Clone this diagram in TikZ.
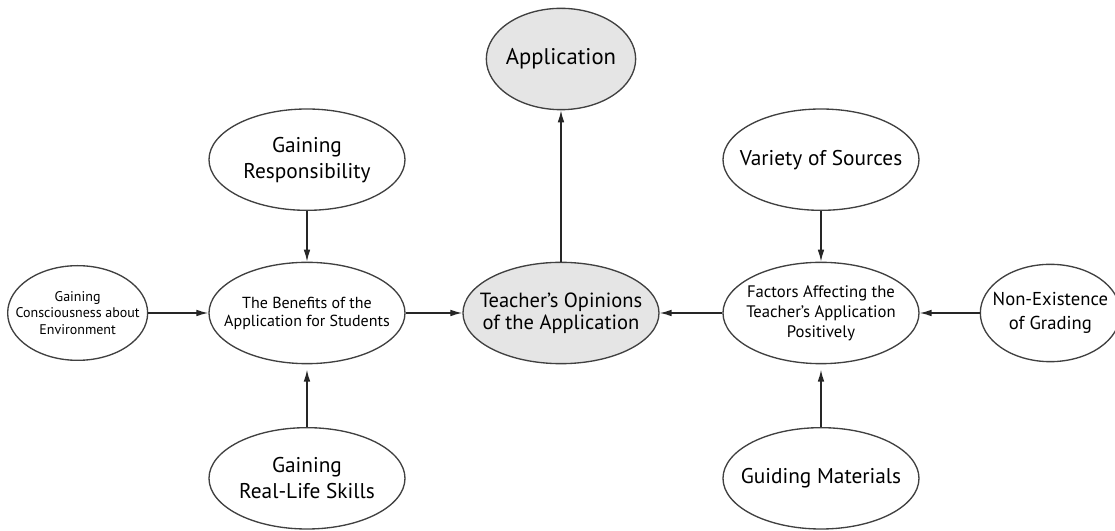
\documentclass[tikz,border=0pt]{standalone}
\usepackage{fontspec}
\setmainfont{PT Sans}
\usetikzlibrary{arrows.meta,positioning,shapes.geometric}

\begin{document}
\begin{tikzpicture}[->,>={Latex[length=9pt,width=5pt]},line width=1pt,black!85,
    on grid,
    ent/.style={ellipse,draw=black!75,line width=1pt,fill=white,inner xsep=-20pt,inner ysep=0pt,
        minimum width=147pt,minimum height=76pt,align=center,text=black},
    core/.style={ent,fill=gray!20},
    big/.style={font=\fontsize{16}{19.5}\selectfont},
    mid/.style={font=\fontsize{12.5}{15}\selectfont},
    tiny/.style={font=\fontsize{10.5}{12.5}\selectfont}]
    \useasboundingbox (-420.75pt,-163.5pt) rectangle (415.5pt,234.75pt);
    \node[core,font=\fontsize{15.4}{16.5}\selectfont] (tea) at (0,0) {Teacher's Opinions\\of the Application};
    \node[core,font=\fontsize{17}{19}\selectfont,minimum width=112pt] (app) [above=190.5pt of tea] {Application};
    \node[ent,font=\fontsize{12}{13.5}\selectfont] (ben) [left=190.5pt of tea] {The Benefits of the\\Application for Students};
    \node[ent,mid] (fac) [right=195pt of tea] {Factors Affecting the\\Teacher's Application\\Positively};
    \node[ent,big] (res) [above=115pt of ben] {Gaining\\Responsibility};
    \node[ent,big] (real) [below=124pt of ben] {Gaining\\Real-Life Skills};
    \node[ent,tiny,minimum width=105pt,minimum height=71pt] (con) [left=172pt of ben] {Gaining\\Consciousness about\\Environment};
    \node[ent,big] (var) [above=115pt of fac] {Variety of Sources};
    \node[ent,big] (gui) [below=124pt of fac] {Guiding Materials};
    \node[ent,font=\fontsize{14}{17.5}\selectfont,minimum width=105pt,minimum height=73pt] (non) [right=172pt of fac] {Non-Existence\\of Grading};
    \path
    (tea) edge (app)
    (res) edge (ben)
    (real) edge [shorten >=4pt] (ben)
    (con) edge (ben)
    (ben) edge (tea)
    (var) edge (fac)
    (gui) edge [shorten >=4pt] (fac)
    (non) edge (fac)
    (fac) edge (tea)
;
\end{tikzpicture}
\end{document}
